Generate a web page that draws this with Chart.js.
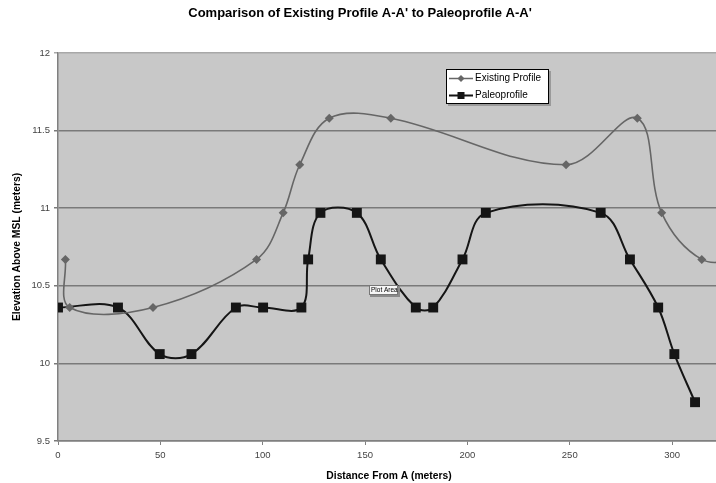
<!DOCTYPE html>
<html>
<head>
<meta charset="utf-8">
<script src="https://cdn.jsdelivr.net/npm/chart.js@4/dist/chart.umd.min.js"></script>
<style>
html,body{margin:0;padding:0;background:#fff;overflow:hidden;width:716px;height:483px;}
canvas{display:block;}
</style>
</head>
<body>
<canvas id="c" width="736" height="483"></canvas>
<script>
// ---- Data ----
const chartTitle = "Comparison of Existing Profile A-A' to Paleoprofile A-A'";
const xAxisTitle = "Distance From A (meters)";
const yAxisTitle = "Elevation Above MSL (meters)";

const existingX = [3.6, 5.7, 46.4, 97.0, 110.0, 118.1, 132.5, 162.6, 248.2, 283.0, 294.9, 314.5, 335.0];
const existingY = [10.67, 10.36, 10.36, 10.67, 10.97, 11.28, 11.58, 11.58, 11.28, 11.58, 10.97, 10.67, 10.67];

const paleoX = [0, 29.3, 49.7, 65.2, 86.9, 100.2, 118.9, 122.2, 128.2, 146.0, 157.7, 174.8, 183.3, 197.6, 209.0, 265.1, 279.4, 293.2, 301.1, 311.2];
const paleoY = [10.36, 10.36, 10.06, 10.06, 10.36, 10.36, 10.36, 10.67, 10.97, 10.97, 10.67, 10.36, 10.36, 10.67, 10.97, 10.97, 10.67, 10.36, 10.06, 9.75];

const seriesNames = ["Existing Profile", "Paleoprofile"];
const yTickMin = 9.5, yTickMax = 12, yTickStep = 0.5;
const xTickMin = 0, xTickStep = 50;

const toPoints = (xs, ys) => xs.map((x, i) => ({x: x, y: ys[i]}));

const FONT = "'Liberation Sans', Arial, sans-serif";
const GREY_LINE = '#666666';
const BLACK_LINE = '#151515';
const PLOT_BG = '#c8c8c8';

const plotBg = {
  id: 'plotBg',
  beforeDraw(chart) {
    const a = chart.chartArea, ctx = chart.ctx;
    ctx.save();
    ctx.fillStyle = PLOT_BG;
    ctx.fillRect(a.left, a.top, a.right - a.left, a.bottom - a.top);
    ctx.restore();
  }
};

const overlay = {
  id: 'overlay',
  afterDraw(chart) {
    const ctx = chart.ctx;
    ctx.save();
    // legend box
    const lx = 446, ly = 69, lw = 103, lh = 35;
    ctx.fillStyle = '#9a9a9a';
    ctx.fillRect(lx + 2, ly + 2, lw, lh);
    ctx.fillStyle = '#ffffff';
    ctx.fillRect(lx, ly, lw, lh);
    ctx.strokeStyle = '#000';
    ctx.lineWidth = 1;
    ctx.strokeRect(lx + 0.5, ly + 0.5, lw - 1, lh - 1);
    // item 1
    let y1 = 78.5;
    ctx.strokeStyle = GREY_LINE; ctx.lineWidth = 1.5;
    ctx.beginPath(); ctx.moveTo(449, y1); ctx.lineTo(473, y1); ctx.stroke();
    ctx.fillStyle = GREY_LINE;
    ctx.beginPath(); ctx.moveTo(461, y1 - 3.5); ctx.lineTo(464.5, y1); ctx.lineTo(461, y1 + 3.5); ctx.lineTo(457.5, y1); ctx.closePath(); ctx.fill();
    // item 2
    let y2 = 95.5;
    ctx.strokeStyle = BLACK_LINE; ctx.lineWidth = 2;
    ctx.beginPath(); ctx.moveTo(449, y2); ctx.lineTo(473, y2); ctx.stroke();
    ctx.fillStyle = BLACK_LINE;
    ctx.fillRect(457.5, y2 - 3.5, 7, 7);
    ctx.fillStyle = '#000';
    ctx.font = '10px ' + FONT;
    ctx.textBaseline = 'middle';
    ctx.textAlign = 'left';
    ctx.fillText(seriesNames[0], 475, y1);
    ctx.fillText(seriesNames[1], 475, y2);

    // "Plot Area" tip
    ctx.fillStyle = '#8a8a8a';
    ctx.fillRect(370, 286, 30, 11);
    ctx.fillStyle = '#f6f6f6';
    ctx.fillRect(369, 285, 29, 10);
    ctx.strokeStyle = '#777';
    ctx.lineWidth = 1;
    ctx.strokeRect(369.5, 285.5, 28, 9);
    ctx.fillStyle = '#000';
    ctx.font = '6.5px ' + FONT;
    ctx.fillText('Plot Area', 371, 290.5);
    ctx.restore();
  }
};

new Chart(document.getElementById('c'), {
  type: 'line',
  data: {
    datasets: [
      {
        label: seriesNames[0],
        data: toPoints(existingX, existingY),
        borderColor: GREY_LINE,
        backgroundColor: GREY_LINE,
        borderWidth: 1.6,
        pointStyle: 'rectRot',
        pointRadius: 4.5,
        pointBorderWidth: 0,
        tension: 0.36,
        fill: false
      },
      {
        label: seriesNames[1],
        data: toPoints(paleoX, paleoY),
        borderColor: BLACK_LINE,
        backgroundColor: BLACK_LINE,
        borderWidth: 2,
        pointStyle: 'rect',
        pointRadius: 7,
        pointBorderWidth: 0,
        tension: 0.36,
        fill: false
      }
    ]
  },
  options: {
    responsive: false,
    animation: false,
    devicePixelRatio: 1,
    layout: { padding: { left: 0, right: 16, top: 0, bottom: 0 } },
    plugins: {
      legend: { display: false },
      tooltip: { enabled: false },
      title: {
        display: true,
        text: chartTitle,
        color: '#000',
        font: { family: FONT, size: 13, weight: 'bold' },
        padding: { top: 6, bottom: 31.4 }
      }
    },
    scales: {
      x: {
        type: 'linear',
        min: xTickMin,
        max: 323.4,
        afterFit(s) { s.height = 42; },
        ticks: {
          stepSize: xTickStep,
          includeBounds: false,
          color: '#444',
          font: { family: FONT, size: 9.5 },
          padding: 5,
          maxRotation: 0,
          callback: (v) => String(v)
        },
        grid: { drawOnChartArea: false, drawTicks: true, tickLength: 4, color: '#808080', lineWidth: 1 },
        border: { display: true, color: '#808080', width: 1.5 },
        title: {
          display: true,
          text: xAxisTitle,
          color: '#000',
          font: { family: FONT, size: 10.3, weight: 'bold' },
          padding: { top: 0, bottom: 1 }
        }
      },
      y: {
        type: 'linear',
        min: yTickMin,
        max: yTickMax,
        afterFit(s) { s.width = 58; },
        ticks: {
          stepSize: yTickStep,
          color: '#444',
          font: { family: FONT, size: 9.5 },
          padding: 4,
          callback: (v) => String(Math.round(v * 10) / 10)
        },
        grid: {
          drawOnChartArea: true,
          drawTicks: true,
          tickLength: 4,
          color: (c) => (c.tick && c.tick.value === yTickMax) ? '#a8a8a8' : '#7a7a7a',
          lineWidth: 1.5
        },
        border: { display: true, color: '#808080', width: 1.5 },
        title: {
          display: true,
          text: yAxisTitle,
          color: '#000',
          font: { family: FONT, size: 10.3, weight: 'bold' },
          padding: { top: 11, bottom: 0 }
        }
      }
    }
  },
  plugins: [plotBg, overlay]
});
</script>
</body>
</html>
